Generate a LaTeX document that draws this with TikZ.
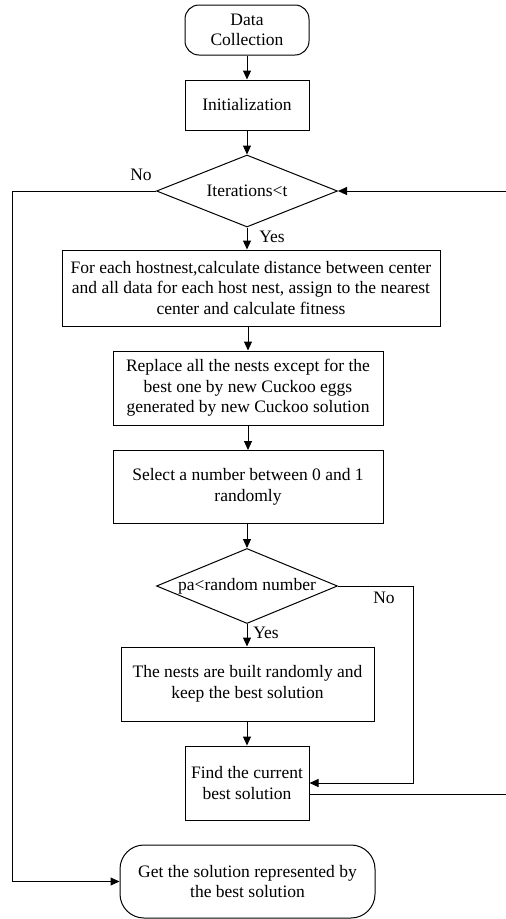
\documentclass[tikz,border=0pt]{standalone}
\usepackage{fontspec}
\setmainfont{Liberation Serif}
\usetikzlibrary{shapes.geometric,arrows.meta,calc}
\begin{document}
\begin{tikzpicture}[x=1pt,y=-1pt,
  font=\fontsize{17.5}{20.5}\selectfont,
  base/.style={draw=black,line width=1pt,align=center,inner sep=2pt},
  procbox/.style={base,rectangle},
  termbox/.style={base,rectangle,rounded corners=14pt},
  decbox/.style={base,diamond,aspect=2.5,inner sep=0pt},
  conn/.style={line width=1pt,-{Triangle[length=9pt,width=8pt]}},
  plain/.style={line width=1pt},
  lbl/.style={inner sep=0pt}]
\useasboundingbox (0,0) rectangle (506,919);
\node[termbox,minimum width=124pt,minimum height=50pt] (dc) at (247,30) {Data\\Collection};
\node[procbox,minimum width=124pt,minimum height=50pt] (init) at (247,105) {Initialization};
\node[decbox,minimum width=181pt,minimum height=72pt] (d1) at (247,191) {Iterations<t};
\node[procbox,minimum width=378pt,minimum height=76pt] (b1) at (251,288) {For each hostnest,calculate distance between center\\and all data for each host nest, assign to the nearest\\center and calculate fitness};
\node[procbox,minimum width=270pt,minimum height=74pt] (b2) at (248,388) {Replace all the nests except for the\\best one by new Cuckoo eggs\\generated by new Cuckoo solution};
\node[procbox,minimum width=270pt,minimum height=73pt] (b3) at (248,487) {Select a number between 0 and 1\\randomly};
\node[decbox,minimum width=181pt,minimum height=75pt] (d2) at (247,586) {pa<random number};
\node[procbox,minimum width=253pt,minimum height=74pt] (b4) at (247.5,684) {The nests are built randomly and\\keep the best solution};
\node[procbox,minimum width=124pt,minimum height=74pt] (b5) at (247,783) {Find the current\\best solution};
\node[termbox,rounded corners=24pt,minimum width=255pt,minimum height=73pt] (fin) at (247.5,881.5) {Get the solution represented by\\the best solution};
% labels
\node[lbl] (no1) at (141,175) {No};
\node[lbl] (yes1) at (272,237) {Yes};
\node[lbl] (no2) at (384,598) {No};
\node[lbl] (yes2) at (266,633) {Yes};
% coordinates
\coordinate (lft) at (12,191);
\coordinate (r2) at (413,586);
\coordinate (rtop) at (506,191);
\coordinate (rbot) at (506,794);
\coordinate (b5out) at ($(b5.east)+(0,11)$);
% connectors
\draw[conn] (dc) -- (init);
\draw[conn] (init) -- (d1);
\draw[conn] (d1.south) -- (d1.south |- b1.north);
\draw[conn] (b1.south -| b2.north) -- (b2.north);
\draw[conn] (b2) -- (b3);
\draw[conn] (b3.south -| d2.north) -- (d2.north);
\draw[conn] (d2.south) -- (d2.south |- b4.north);
\draw[conn] (b4.south -| b5.north) -- (b5.north);
\draw[conn] (d2.east) -- (r2) |- (b5.east);
\draw[plain] (b5out) -- (rbot) -- (rtop);
\draw[conn] (rtop) -- (d1.east);
\draw[conn] (d1.west) -- (lft) |- (fin.west);
\end{tikzpicture}
\end{document}
